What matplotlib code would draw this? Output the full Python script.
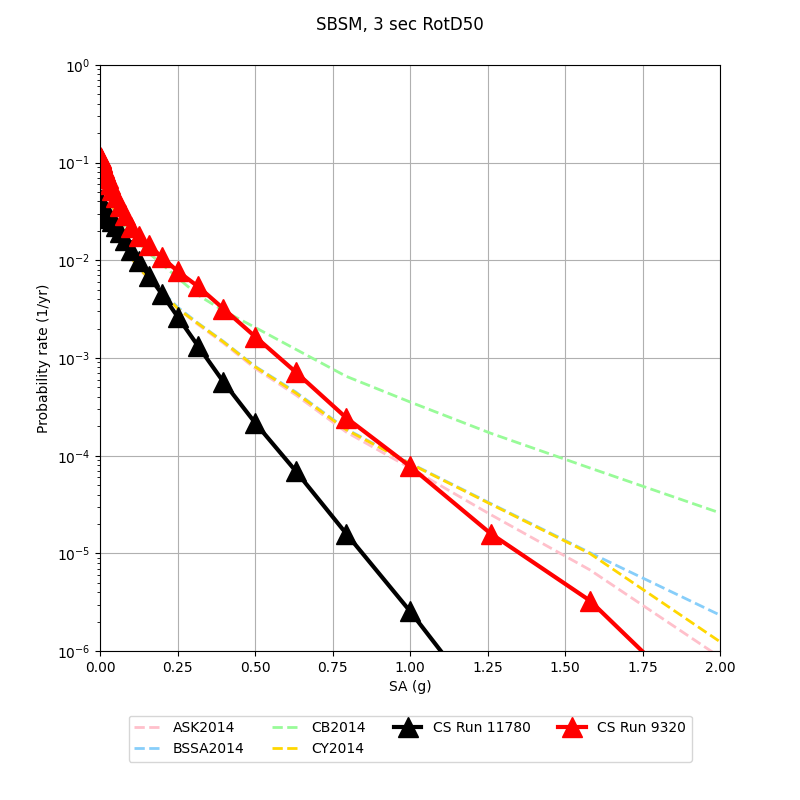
import numpy as np
import matplotlib
matplotlib.use("Agg")
import matplotlib.pyplot as plt

# intensity measure levels (g)
sa = [0.001, 0.00126, 0.00158, 0.002, 0.00251, 0.00316, 0.00398, 0.00501, 0.00631, 0.00794,
      0.01, 0.0126, 0.0158, 0.02, 0.0251, 0.0316, 0.0398, 0.0501, 0.0631, 0.0794,
      0.1, 0.126, 0.158, 0.2, 0.251, 0.316, 0.398, 0.501, 0.631, 0.794,
      1.0, 1.26, 1.58, 2.0]

ask2014 = [0.098, 0.097, 0.096, 0.095, 0.094, 0.092, 0.090, 0.088, 0.085, 0.082,
           0.078, 0.073, 0.067, 0.060, 0.052, 0.044, 0.036, 0.029, 0.022, 0.0165,
           0.0105, 0.0082, 0.0064, 0.0047, 0.0032, 0.0022, 0.00142, 0.00078, 0.00042, 0.000175,
           7.5e-5, 2.5e-5, 6.8e-6, 8.7e-7]
bssa2014 = [0.099, 0.098, 0.097, 0.096, 0.095, 0.093, 0.091, 0.089, 0.086, 0.083,
            0.079, 0.074, 0.068, 0.061, 0.053, 0.045, 0.037, 0.030, 0.023, 0.017,
            0.0108, 0.0084, 0.0066, 0.0048, 0.0033, 0.00228, 0.00148, 0.00082, 0.00045, 0.000188,
            8.4e-5, 3.25e-5, 1.02e-5, 2.34e-6]
cb2014 = [0.099, 0.098, 0.097, 0.096, 0.095, 0.094, 0.092, 0.090, 0.088, 0.085,
          0.081, 0.076, 0.070, 0.063, 0.055, 0.047, 0.040, 0.033, 0.027, 0.022,
          0.0185, 0.0150, 0.0118, 0.0091, 0.0066, 0.0044, 0.00305, 0.00205, 0.00123, 0.00065,
          0.000355, 0.00017, 7.5e-5, 2.6e-5]
cy2014 = [0.099, 0.098, 0.097, 0.096, 0.095, 0.093, 0.091, 0.089, 0.086, 0.083,
          0.079, 0.074, 0.068, 0.061, 0.053, 0.045, 0.037, 0.030, 0.023, 0.017,
          0.0107, 0.0083, 0.0065, 0.0047, 0.0032, 0.00225, 0.00146, 0.00081, 0.00044, 0.000185,
          8.3e-5, 3.2e-5, 1.0e-5, 1.25e-6]
cs_11780 = [0.042, 0.041, 0.040, 0.0395, 0.039, 0.038, 0.037, 0.036, 0.035, 0.034,
            0.033, 0.032, 0.031, 0.030, 0.028, 0.027, 0.025, 0.0225, 0.0195, 0.016,
            0.0128, 0.0098, 0.0069, 0.0045, 0.00263, 0.00133, 0.00057, 0.000216, 7.0e-5, 1.6e-5,
            2.57e-6, 2.2e-7, 1.0e-8, 1.0e-10]
cs_9320 = [0.115, 0.113, 0.112, 0.110, 0.108, 0.106, 0.104, 0.101, 0.098, 0.095,
           0.091, 0.087, 0.082, 0.076, 0.069, 0.061, 0.052, 0.044, 0.036, 0.029,
           0.0220, 0.0178, 0.0142, 0.0107, 0.0077, 0.0054, 0.0032, 0.00165, 0.00072, 0.000245,
           7.8e-5, 1.6e-5, 3.3e-6, 1.7e-7]

fig, ax = plt.subplots(figsize=(8, 8), dpi=100)
fig.subplots_adjust(left=0.125, right=0.9, top=0.919, bottom=0.186)

ax.plot(sa, ask2014, color='pink', linestyle='--', linewidth=2, label='ASK2014')
ax.plot(sa, bssa2014, color='lightskyblue', linestyle='--', linewidth=2, label='BSSA2014')
ax.plot(sa, cb2014, color='palegreen', linestyle='--', linewidth=2, label='CB2014')
ax.plot(sa, cy2014, color='gold', linestyle='--', linewidth=2, label='CY2014')
ax.plot(sa, cs_11780, color='black', marker='^', markersize=15, linewidth=3, label='CS Run 11780')
ax.plot(sa, cs_9320, color='red', marker='^', markersize=15, linewidth=3, label='CS Run 9320')

ax.set_yscale('log')
ax.set_xlim(0, 2)
ax.set_ylim(1e-6, 1)
ax.set_xlabel('SA (g)')
ax.set_ylabel('Probability rate (1/yr)')
ax.grid(True)
fig.suptitle('SBSM, 3 sec RotD50')
ax.legend(loc='upper center', bbox_to_anchor=(0.5, -0.098), ncol=4)

fig.savefig('out.png')
